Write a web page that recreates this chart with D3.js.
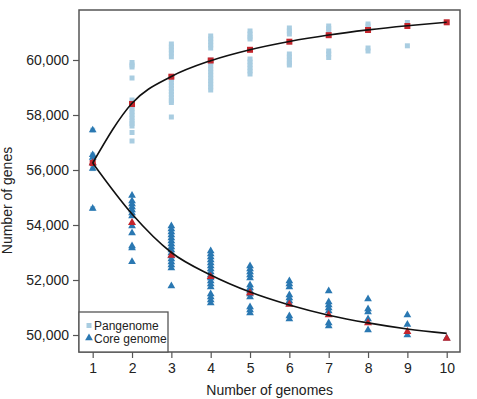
<!DOCTYPE html>
<html>
<head>
<meta charset="utf-8">
<script src="https://cdn.jsdelivr.net/npm/d3@7"></script>
<style>
  body { margin: 0; background: #fff; }
  svg { display: block; font-family: "Liberation Sans", Arial, sans-serif; }
</style>
</head>
<body>
<div class="content"></div>
<script>
var genomes = [1, 2, 3, 4, 5, 6, 7, 8, 9, 10];

// individual permutations, one list per number of genomes
var panPoints = [
    [57450, 56550, 56450, 56254, 56050, 54600],
    [59909, 59818, 59745, 59345, 58545, 58436, 58327, 58218, 58109, 58000, 57891, 57782, 57691, 57600, 57364, 57055],
    [60582, 60473, 60364, 60255, 60116, 59400, 59291, 59182, 59073, 58964, 58855, 58745, 58636, 58527, 58455, 57927],
    [60873, 60764, 60655, 60545, 60436, 60000, 59891, 59782, 59673, 59564, 59455, 59345, 59236, 59127, 59018, 58909],
    [61055, 60945, 60836, 60764, 60036, 59927, 59818, 59709, 59600, 59491],
    [61164, 61055, 60945, 60218, 60109, 60000, 59891, 59818],
    [61236, 61145, 61055, 60327, 60218, 60091],
    [61309, 61236, 60436, 60327],
    [61364, 60516],
    [61371]
];
var corePoints = [
    [57450, 56550, 56450, 56254, 56050, 54600],
    [55073, 54873, 54764, 54655, 54545, 54436, 54327, 53964, 53709, 53236, 53164, 52665],
    [53964, 53855, 53745, 53636, 53527, 53418, 53309, 53200, 53091, 52982, 52873, 52764, 52655, 52545, 52436, 51782],
    [53055, 52945, 52836, 52727, 52618, 52509, 52400, 52291, 52182, 52073, 51964, 51855, 51745, 51491, 51382, 51273, 51164],
    [52509, 52400, 52291, 52182, 52073, 51818, 51709, 51600, 51491, 51382, 51018, 50909, 50800],
    [51964, 51855, 51745, 51455, 51345, 51236, 51127, 50691, 50582],
    [51600, 51200, 51091, 50982, 50873, 50436, 50327],
    [51309, 50945, 50836, 50582, 50182],
    [50727, 50382, 50000],
    [49880]
];

var panMedian = [56254, 58400, 59393, 59982, 60371, 60665, 60902, 61091, 61236, 61371];
var coreMedian = [56254, 54084, 52898, 52120, 51527, 51109, 50727, 50436, 50120, 49880];
var panFit = [56254, 58430, 59400, 59975, 60375, 60675, 60910, 61095, 61245, 61371];
var coreFit = [56254, 54400, 53000, 52180, 51560, 51090, 50720, 50440, 50220, 50060];

var yTicks = [50000, 52000, 54000, 56000, 58000, 60000];
var legendLabels = ['Pangenome', 'Core genome'];

var graph = {
    width: 477,
    height: 399,
    margin: { top: 10, right: 17, bottom: 47, left: 79 },
    panColor: '#a9cde1',
    coreColor: '#2a78b2',
    medianColor: '#c4262d',
    frameColor: '#555'
};

function drawGraph() {
    var m = graph.margin;
    var svg = d3.select('.content').append('svg')
        .attr('width', graph.width)
        .attr('height', graph.height);

    var x = d3.scaleLinear().domain([0.652, 10.338]).range([m.left, graph.width - m.right]);
    var y = d3.scaleLinear().domain([49382, 61818]).range([graph.height - m.bottom, m.top]);

    // axes
    var xAxis = svg.append('g')
        .attr('transform', 'translate(0,' + (graph.height - m.bottom) + ')')
        .call(d3.axisBottom(x).tickValues(genomes).tickSize(6).tickPadding(5).tickFormat(d3.format('d')));
    var yAxis = svg.append('g')
        .attr('transform', 'translate(' + m.left + ',0)')
        .call(d3.axisLeft(y).tickValues(yTicks).tickSize(6).tickPadding(4).tickFormat(d3.format(',')));
    [xAxis, yAxis].forEach(function(a) {
        a.select('.domain').remove();
        a.selectAll('line').attr('stroke', graph.frameColor).attr('stroke-width', 1.2);
        a.selectAll('text').attr('fill', '#222').style('font-size', '14px');
    });

    svg.append('text')
        .attr('x', (x(1) + x(10)) / 2)
        .attr('y', 395)
        .attr('text-anchor', 'middle')
        .attr('fill', '#222')
        .style('font-size', '14px')
        .text('Number of genomes');
    svg.append('text')
        .attr('transform', 'translate(12,' + ((y(50000) + y(60000)) / 2 + 3) + ') rotate(-90)')
        .attr('text-anchor', 'middle')
        .attr('fill', '#222')
        .style('font-size', '14px')
        .text('Number of genes');

    var plot = svg.append('g');
    var tri = d3.symbol().type(d3.symbolTriangle);

    // pangenome permutations
    genomes.forEach(function(g, i) {
        plot.selectAll(null).data(panPoints[i]).enter().append('rect')
            .attr('x', x(g) - 2.5)
            .attr('y', function(d) { return y(d) - 2.5; })
            .attr('width', 5)
            .attr('height', 5)
            .attr('fill', graph.panColor);
    });

    // core genome permutations
    genomes.forEach(function(g, i) {
        plot.selectAll(null).data(corePoints[i]).enter().append('path')
            .attr('d', tri.size(26)())
            .attr('transform', function(d) { return 'translate(' + x(g) + ',' + y(d) + ')'; })
            .attr('fill', graph.coreColor);
    });

    // medians
    plot.selectAll(null).data(coreMedian).enter().append('path')
        .attr('d', tri.size(28)())
        .attr('transform', function(d, i) { return 'translate(' + x(genomes[i]) + ',' + y(d) + ')'; })
        .attr('fill', graph.medianColor);
    plot.selectAll(null).data(panMedian).enter().append('rect')
        .attr('x', function(d, i) { return x(genomes[i]) - 3; })
        .attr('y', function(d) { return y(d) - 3; })
        .attr('width', 6)
        .attr('height', 6)
        .attr('fill', graph.medianColor);

    // fitted curves
    var line = d3.line()
        .x(function(d, i) { return x(genomes[i]); })
        .y(function(d) { return y(d); })
        .curve(d3.curveMonotoneX);
    [panFit, coreFit].forEach(function(f) {
        plot.append('path')
            .attr('d', line(f))
            .attr('fill', 'none')
            .attr('stroke', '#111')
            .attr('stroke-width', 1.6);
    });

    // frame
    svg.append('rect')
        .attr('x', m.left)
        .attr('y', m.top)
        .attr('width', graph.width - m.left - m.right)
        .attr('height', graph.height - m.top - m.bottom)
        .attr('fill', 'none')
        .attr('stroke', graph.frameColor)
        .attr('stroke-width', 1.5);

    // legend
    var lg = svg.append('g').attr('transform', 'translate(' + m.left + ',' + 312 + ')');
    lg.append('rect')
        .attr('width', 89)
        .attr('height', graph.height - m.bottom - 312)
        .attr('fill', '#fff')
        .attr('stroke', graph.frameColor)
        .attr('stroke-width', 1.3);
    lg.append('rect').attr('x', 7.5).attr('y', 11).attr('width', 5).attr('height', 5).attr('fill', graph.panColor);
    lg.append('path').attr('d', tri.size(26)()).attr('transform', 'translate(10,26)').attr('fill', graph.coreColor);
    lg.selectAll(null).data(legendLabels).enter().append('text')
        .attr('x', 15)
        .attr('y', function(d, i) { return 18 + i * 12.5; })
        .attr('fill', '#222')
        .style('font-size', '12px')
        .text(function(d) { return d; });
}

drawGraph();
</script>
</body>
</html>
